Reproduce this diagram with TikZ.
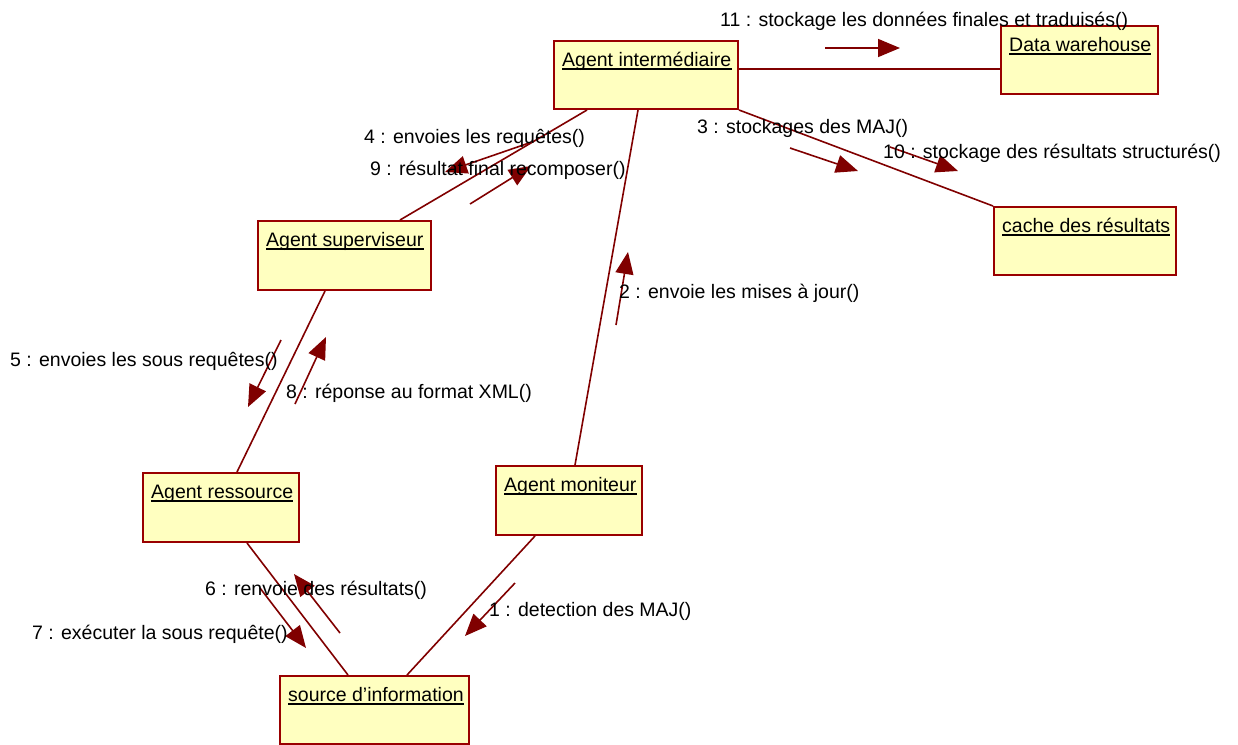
\documentclass[tikz,border=0pt]{standalone}
\usepackage{fontspec}
\setmainfont{Liberation Sans}
\usetikzlibrary{arrows.meta}
\definecolor{umlborder}{HTML}{990000}
\definecolor{umlfill}{HTML}{FFFFC0}
\definecolor{umlmsg}{HTML}{800000}
\begin{document}
\begin{tikzpicture}[x=1pt,y=-1pt,
  objbox/.style={draw=umlborder, fill=umlfill, line width=2pt, rectangle,
    inner sep=0pt, anchor=north west},
  objname/.style={anchor=base west, inner sep=0pt, font=\fontsize{19.5}{22}\selectfont},
  nameline/.style={draw=black, line width=1.6pt},
  link/.style={draw=umlmsg, line width=1.6pt},
  msg/.style={draw=umlmsg, line width=1.6pt,
    -{Triangle[length=22pt,width=18pt,fill=umlmsg]}},
  msglabel/.style={anchor=base west, inner sep=0pt, font=\fontsize{19.5}{22}\selectfont}]
\useasboundingbox (0,0) rectangle (1238,744);

% objects
\node[objbox, minimum width=184, minimum height=68] (ai) at (553,40) {};
\node[objbox, minimum width=157, minimum height=68] (dw) at (1000,25) {};
\node[objbox, minimum width=173, minimum height=69] (sup) at (257,220) {};
\node[objbox, minimum width=182, minimum height=68] (cache) at (993,206) {};
\node[objbox, minimum width=156, minimum height=69] (res) at (142,472) {};
\node[objbox, minimum width=146, minimum height=69] (mon) at (495,465) {};
\node[objbox, minimum width=189, minimum height=68] (src) at (279,675) {};

% object names, underlined
\node[objname] (ait) at ([shift={(9,26.5)}]ai.north west) {Agent intermédiaire};
\node[objname] (dwt) at ([shift={(9,26.5)}]dw.north west) {Data warehouse};
\node[objname] (supt) at ([shift={(9,26.5)}]sup.north west) {Agent superviseur};
\node[objname] (cachet) at ([shift={(9,26.5)}]cache.north west) {cache des résultats};
\node[objname] (rest) at ([shift={(9,26.5)}]res.north west) {Agent ressource};
\node[objname] (mont) at ([shift={(9,26.5)}]mon.north west) {Agent moniteur};
\node[objname] (srct) at ([shift={(9,26.5)}]src.north west) {source d'information};
\foreach \n in {ait,dwt,supt,cachet,rest,mont,srct}
  \draw[nameline] ([yshift=-2.5]\n.base west) -- ([yshift=-2.5]\n.base east);

% links between objects
\draw[link] ([yshift=-29]ai.north east) -- ([yshift=-44]dw.north west);
\draw[link] (ai.south east) -- (cache.north west);
\draw[link] ([xshift=34]ai.south west) -- ([xshift=143]sup.north west);
\draw[link] ([xshift=85]ai.south west) -- ([xshift=80]mon.north west);
\draw[link] ([xshift=68]sup.south west) -- ([xshift=95]res.north west);
\draw[link] ([xshift=105]res.south west) -- ([xshift=69]src.north west);
\draw[link] ([xshift=40]mon.south west) -- ([xshift=128]src.north west);

% message arrows
\coordinate (m11a) at (825,48);  \coordinate (m11b) at (900,48);
\coordinate (m3a) at (790,148);  \coordinate (m3b) at (858,171);
\coordinate (m10a) at (890,147); \coordinate (m10b) at (958,171);
\coordinate (m4a) at (532,142);  \coordinate (m4b) at (445,172);
\coordinate (m9a) at (470,204);  \coordinate (m9b) at (531,166);
\coordinate (m2a) at (616,325);  \coordinate (m2b) at (628,252);
\coordinate (m5a) at (281,340);  \coordinate (m5b) at (248,407);
\coordinate (m8a) at (295,404);  \coordinate (m8b) at (326,337);
\coordinate (m6a) at (340,633);  \coordinate (m6b) at (294,574);
\coordinate (m7a) at (260,588);  \coordinate (m7b) at (306,648);
\coordinate (m1a) at (515,583);  \coordinate (m1b) at (465,636);

\draw[msg] (m11a) -- (m11b);
\draw[msg] (m3a) -- (m3b);
\draw[msg] (m10a) -- (m10b);
\draw[msg] (m4a) -- (m4b);
\draw[msg] (m9a) -- (m9b);
\draw[msg] (m2a) -- (m2b);
\draw[msg] (m5a) -- (m5b);
\draw[msg] (m8a) -- (m8b);
\draw[msg] (m6a) -- (m6b);
\draw[msg] (m7a) -- (m7b);
\draw[msg] (m1a) -- (m1b);

% message labels
\node[msglabel] (l11) at (720,26) {11 : stockage les données finales et traduisés()};
\node[msglabel] (l3) at (697,133) {3 : stockages des MAJ()};
\node[msglabel] (l10) at (883,158) {10 : stockage des résultats structurés()};
\node[msglabel] (l4) at (364,143) {4 : envoies les requêtes()};
\node[msglabel] (l9) at (370,175) {9 : résultat final recomposer()};
\node[msglabel] (l2) at (619,298) {2 : envoie les mises à jour()};
\node[msglabel] (l5) at (10,366) {5 : envoies les sous requêtes()};
\node[msglabel] (l8) at (286,398) {8 : réponse au format XML()};
\node[msglabel] (l6) at (205,595) {6 : renvoie des résultats()};
\node[msglabel] (l7) at (32,639) {7 : exécuter la sous requête()};
\node[msglabel] (l1) at (489,616) {1 : detection des MAJ()};
\end{tikzpicture}
\end{document}
